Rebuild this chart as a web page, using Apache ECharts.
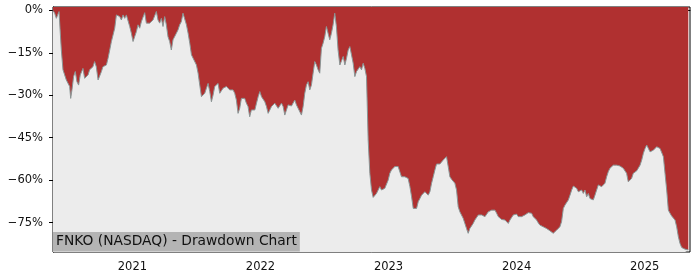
<!DOCTYPE html>
<html>
<head>
<meta charset="utf-8">
<script src="https://cdn.jsdelivr.net/npm/echarts@6/dist/echarts.min.js"></script>
<style>html,body{margin:0;padding:0;background:#fff;}#c{width:700px;height:280px;}</style>
</head>
<body>
<div id="c"></div>
<script>
// Sample positions (decimal years) and drawdown values (%)
const years = [
2020.380,2020.393,2020.406,2020.419,2020.427,2020.437,2020.445,2020.458,2020.471,2020.484,2020.497,2020.510,2020.518,2020.528,2020.541,2020.554,2020.567,2020.580,2020.593,2020.607,2020.614,2020.627,2020.641,2020.654,2020.666,2020.679,2020.692,2020.705,2020.718,2020.732,2020.745,2020.758,2020.770,2020.783,2020.797,2020.810,2020.823,2020.836,2020.849,2020.862,2020.875,2020.888,2020.901,2020.914,2020.927,2020.940,2020.953,2020.966,2020.979,2020.992,
2021.005,2021.018,2021.031,2021.044,2021.057,2021.070,2021.083,2021.096,2021.109,2021.122,2021.135,2021.148,2021.161,2021.174,2021.187,2021.200,2021.213,2021.226,2021.239,2021.252,2021.265,2021.278,2021.291,2021.304,2021.317,2021.330,2021.343,2021.356,2021.369,2021.382,2021.395,2021.409,2021.422,2021.435,2021.448,2021.461,2021.474,2021.487,2021.500,2021.513,2021.526,2021.539,2021.552,2021.565,2021.578,2021.591,2021.604,2021.617,2021.630,2021.643,2021.656,2021.669,2021.682,2021.695,2021.708,2021.721,2021.734,2021.747,2021.760,2021.773,2021.786,2021.799,2021.812,2021.825,2021.838,2021.851,2021.864,2021.877,2021.890,2021.903,2021.916,2021.929,2021.942,2021.956,2021.969,2021.982,2021.995,
2022.008,2022.021,2022.034,2022.047,2022.060,2022.073,2022.086,2022.099,2022.112,2022.125,2022.138,2022.151,2022.164,2022.177,2022.190,2022.203,2022.216,2022.229,2022.242,2022.255,2022.268,2022.281,2022.294,2022.307,2022.320,2022.333,2022.346,2022.359,2022.372,2022.385,2022.398,2022.411,2022.424,2022.437,2022.450,2022.463,2022.476,2022.489,2022.502,2022.515,2022.528,2022.541,2022.554,2022.567,2022.580,2022.593,2022.606,2022.620,2022.633,2022.646,2022.659,2022.672,2022.685,2022.698,2022.724,2022.737,2022.750,2022.776,2022.789,2022.802,2022.815,2022.828,2022.841,2022.854,2022.867,2022.880,2022.893,2022.906,2022.919,2022.932,2022.945,2022.958,2022.971,2022.984,2022.997,
2023.010,2023.023,2023.036,2023.049,2023.062,2023.075,2023.088,2023.101,2023.114,2023.127,2023.140,2023.153,2023.167,2023.180,2023.193,2023.206,2023.219,2023.232,2023.245,2023.258,2023.271,2023.284,2023.297,2023.310,2023.323,2023.336,2023.349,2023.362,2023.375,2023.388,2023.401,2023.414,2023.427,2023.440,2023.453,2023.466,2023.479,2023.492,2023.505,2023.518,2023.531,2023.544,2023.557,2023.570,2023.583,2023.596,2023.609,2023.622,2023.635,2023.648,2023.661,2023.674,2023.688,2023.701,2023.714,2023.727,2023.740,2023.753,2023.766,2023.779,2023.792,2023.805,2023.818,2023.831,2023.844,2023.857,2023.870,2023.883,2023.896,2023.909,2023.922,2023.935,2023.948,2023.961,2023.974,2023.987,
2024.000,2024.013,2024.026,2024.039,2024.052,2024.065,2024.078,2024.091,2024.104,2024.117,2024.130,2024.143,2024.156,2024.169,2024.182,2024.195,2024.208,2024.221,2024.234,2024.247,2024.260,2024.273,2024.286,2024.299,2024.312,2024.325,2024.338,2024.351,2024.365,2024.378,2024.391,2024.404,2024.417,2024.430,2024.443,2024.456,2024.469,2024.482,2024.495,2024.508,2024.521,2024.534,2024.547,2024.560,2024.573,2024.586,2024.599,2024.612,2024.625,2024.638,2024.651,2024.664,2024.677,2024.690,2024.703,2024.716,2024.729,2024.742,2024.755,2024.768,2024.781,2024.794,2024.807,2024.820,2024.833,2024.846,2024.859,2024.872,2024.885,2024.898,2024.911,2024.924,2024.938,2024.951,2024.964,2024.977,2024.990,
2025.003,2025.016,2025.029,2025.042,2025.055,2025.068,2025.081,2025.094,2025.107,2025.120,2025.133,2025.146,2025.159,2025.172,2025.185,2025.198,2025.211,2025.224,2025.237,2025.250,2025.263,2025.276,2025.289,2025.302,2025.315,2025.328,2025.341
];
const drawdown = [
0,-1.0,-2.8,-2.2,-0.4,-8.1,-14.0,-21.0,-22.8,-24.6,-24.0,-26.9,-31.1,-28.1,-23.4,-21.6,-25.2,-26.4,-22.8,-23.4,-20.5,-24.0,-24.6,-22.8,-21.0,-21.6,-19.9,-18.1,-19.9,-24.6,-24.0,-21.6,-19.9,-19.9,-19.3,-16.9,-14.0,-11.0,-11.6,-6.3,-1.6,-1.2,-2.2,-3.4,-1.6,-2.8,-1.6,-1.6,-5.7,-8.1,
-11.0,-10.4,-7.5,-5.1,-6.3,-4.0,-3.4,-0.8,-4.5,-5.1,-4.5,-5.1,-3.4,-2.8,-0.4,-3.4,-4.5,-2.8,-5.7,-2.2,-5.1,-9.3,-11.0,-14.0,-10.4,-9.8,-8.1,-6.9,-5.1,-4.0,-1.0,-0.8,-5.1,-8.1,-11.6,-15.7,-16.9,-17.5,-19.3,-22.2,-26.4,-30.5,-30.5,-29.3,-27.5,-25.8,-28.7,-32.3,-29.9,-26.9,-26.4,-25.8,-29.3,-28.7,-27.5,-28.1,-26.9,-27.5,-28.1,-28.7,-28.1,-29.3,-31.7,-36.4,-34.6,-31.1,-31.7,-31.1,-32.8,-34.0,-37.6,-35.2,-34.6,-35.2,-32.8,-30.5,-28.7,
-30.5,-31.1,-32.3,-34.0,-36.4,-35.2,-34.0,-34.6,-32.8,-33.4,-34.6,-34.6,-32.8,-34.0,-37.0,-35.2,-33.4,-34.0,-33.8,-33.4,-31.7,-33.4,-34.6,-35.2,-37.0,-34.0,-29.3,-26.4,-25.2,-28.1,-26.4,-22.2,-18.1,-19.3,-21.0,-22.2,-13.4,-11.6,-9.3,-5.7,-8.1,-10.4,-8.1,-5.1,-1.0,-5.7,-14.0,-19.3,-19.9,-16.3,-19.3,-16.9,-14.0,-12.8,-18.7,-23.4,-21.6,-19.9,-21.0,-18.7,-20.5,-23.4,-45.8,-57.6,-63.5,-66.1,-65.9,-64.7,-63.5,-62.3,-63.5,-62.9,-62.9,-62.3,-60.0,
-57.6,-56.4,-55.8,-55.2,-55.0,-55.2,-55.8,-58.8,-58.2,-58.8,-58.5,-59.4,-62.3,-65.9,-70.0,-70.3,-70.0,-67.6,-66.5,-65.3,-64.7,-64.1,-64.7,-65.3,-64.1,-61.1,-58.8,-56.4,-54.3,-53.8,-54.3,-54.1,-52.9,-52.3,-51.7,-55.2,-58.8,-59.7,-60.0,-61.1,-63.5,-69.4,-71.2,-70.6,-73.5,-75.3,-77.1,-78.8,-77.1,-76.2,-75.3,-74.1,-74.1,-72.3,-71.7,-72.3,-71.7,-72.9,-72.3,-71.2,-71.2,-70.6,-70.6,-70.6,-71.7,-72.9,-73.5,-73.9,-74.1,-74.1,-74.7,-75.3,-74.1,-73.5,-72.3,-72.3,
-72.0,-72.9,-73.5,-72.9,-72.3,-72.3,-71.7,-71.5,-70.8,-71.7,-72.9,-73.5,-74.1,-75.1,-75.9,-76.2,-76.5,-76.8,-77.1,-77.7,-77.9,-78.3,-78.8,-78.3,-77.7,-77.4,-76.5,-74.7,-70.0,-68.8,-68.2,-67.0,-65.3,-63.5,-62.1,-61.7,-62.9,-64.1,-64.4,-63.5,-64.7,-63.5,-65.9,-64.7,-66.5,-65.9,-67.0,-65.3,-63.5,-61.7,-61.1,-62.3,-62.9,-61.1,-58.8,-57.0,-55.8,-55.2,-54.7,-54.3,-54.7,-54.7,-55.0,-55.2,-55.8,-56.4,-57.6,-60.6,-61.1,-59.4,-57.6,-57.0,-56.7,-56.4,-54.7,-52.9,-50.5,
-48.8,-47.6,-48.2,-50.0,-50.5,-49.4,-48.8,-48.2,-48.2,-48.8,-49.4,-51.7,-57.6,-63.5,-70.6,-71.7,-72.7,-73.2,-74.1,-76.5,-80.0,-82.4,-83.8,-84.1,-84.4,-84.5,-84.7
];
const yearTicks = [2021, 2022, 2023, 2024, 2025];
const pctTicks = [0, -15, -30, -45, -60, -75];
const titleText = 'FNKO (NASDAQ) - Drawdown Chart';

const seriesData = years.map((y, i) => [y, drawdown[i]]);
const FONT = '"DejaVu Sans", sans-serif';

const chart = echarts.init(document.getElementById('c'), null, {renderer: 'canvas'});
chart.setOption({
  animation: false,
  backgroundColor: '#ffffff',
  title: {
    text: titleText,
    left: 53, top: 232,
    padding: [2, 3, 2, 3],
    backgroundColor: '#b4b4b4',
    textStyle: {fontFamily: FONT, fontSize: 13.8, fontWeight: 'normal', color: '#111', lineHeight: 15.5}
  },
  grid: {left: 53, right: 10, top: 7, bottom: 28, show: true, borderColor: '#000', borderWidth: 1, backgroundColor: 'transparent'},
  xAxis: {
    type: 'value', min: 2020.380, max: 2025.354,
    axisLine: {show: true, lineStyle: {color: '#000', width: 1}},
    axisTick: {show: true, customValues: yearTicks, length: 4, lineStyle: {color: '#000'}},
    axisLabel: {customValues: yearTicks, formatter: v => String(Math.round(v)), color: '#111', fontFamily: FONT, fontSize: 11.5, margin: 9},
    splitLine: {show: false}
  },
  yAxis: {
    type: 'value', min: -85.4, max: 1.2,
    axisLine: {show: true, lineStyle: {color: '#000', width: 1}},
    axisTick: {show: true, customValues: pctTicks, length: 4, lineStyle: {color: '#000'}},
    axisLabel: {customValues: pctTicks, formatter: v => (v < 0 ? '\u2212' : '') + Math.abs(Math.round(v)) + '%', color: '#111', fontFamily: FONT, fontSize: 11.5, margin: 10},
    splitLine: {show: false}
  },
  series: [
    {
      type: 'line', data: seriesData, showSymbol: false, silent: true,
      lineStyle: {width: 0},
      areaStyle: {origin: 'start', color: '#ececec', opacity: 1}
    },
    {
      type: 'line', data: seriesData, showSymbol: false, silent: true,
      lineStyle: {width: 1, color: '#8a9595'},
      areaStyle: {origin: 'end', color: '#b03030', opacity: 1}
    }
  ]
});
</script>
</body>
</html>
